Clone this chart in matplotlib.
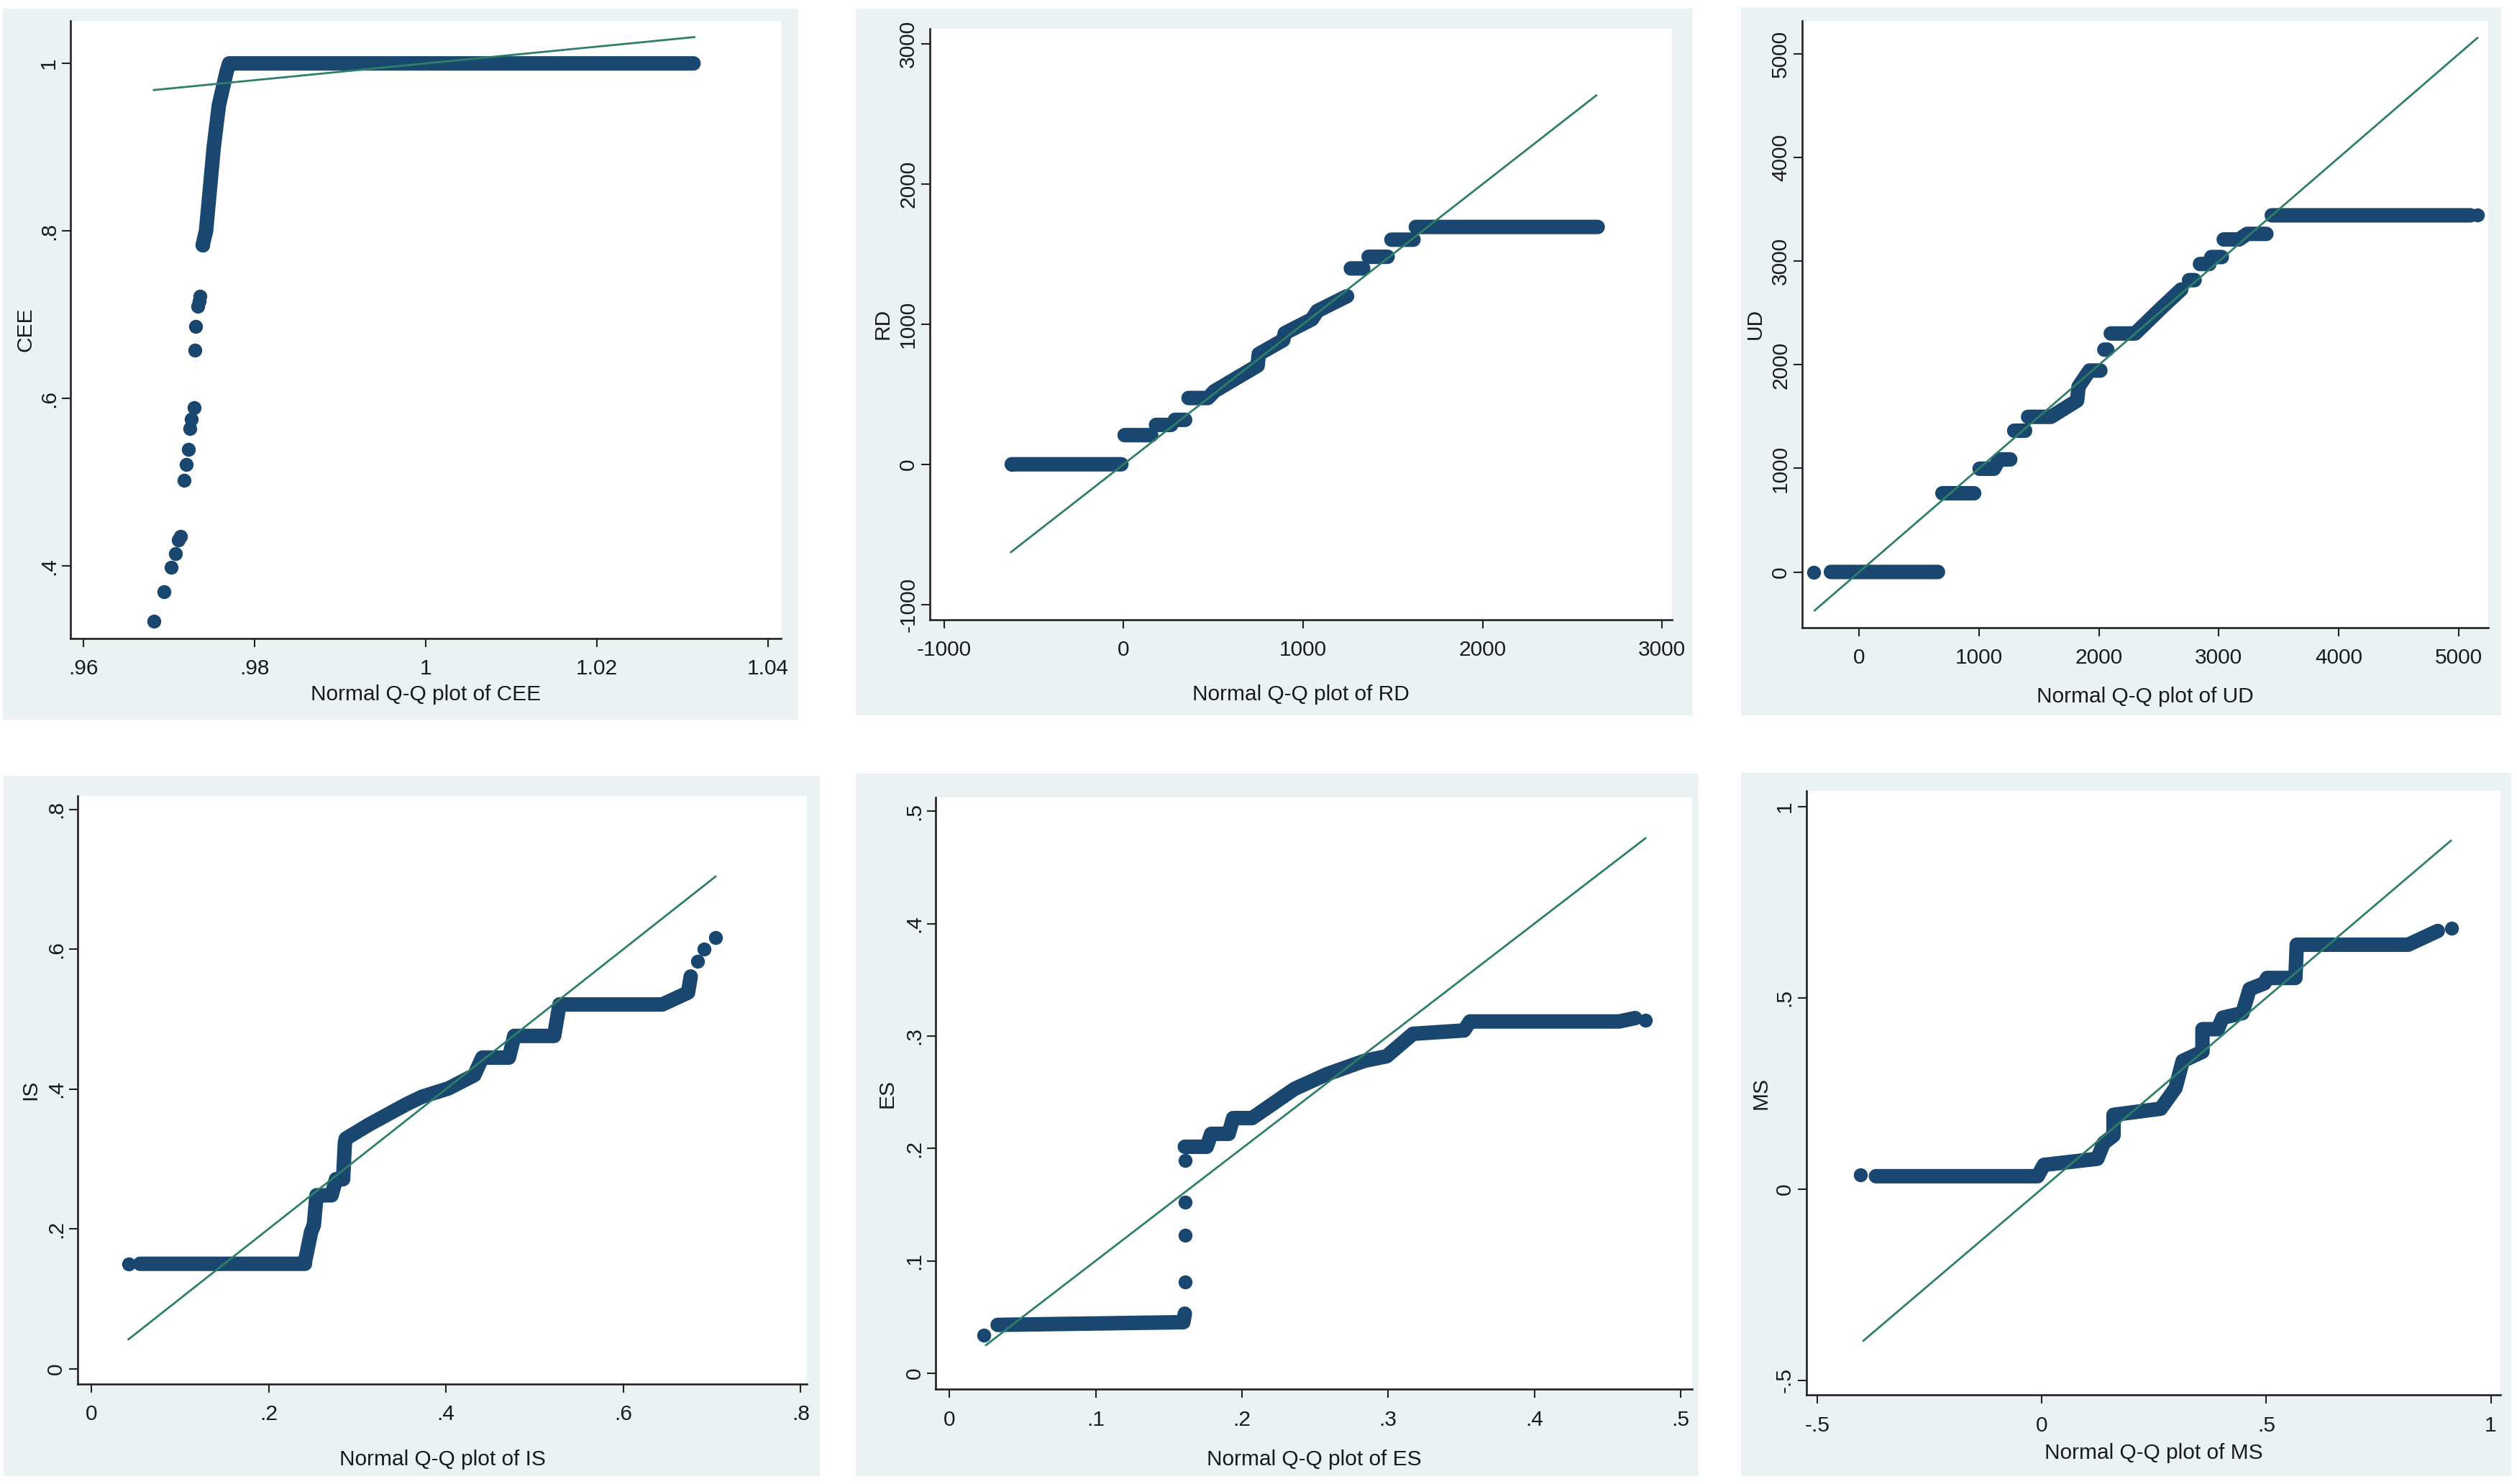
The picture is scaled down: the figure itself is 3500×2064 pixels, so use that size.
import numpy as np
import matplotlib
matplotlib.use("Agg")
import matplotlib.pyplot as plt
from matplotlib.patches import Rectangle

plt.rcParams['font.family'] = ['Liberation Sans', 'DejaVu Sans']
plt.rcParams['text.color'] = '#1a1a1a'
plt.rcParams['xtick.labelcolor'] = '#1a1a1a'
plt.rcParams['ytick.labelcolor'] = '#1a1a1a'

nan = np.nan

# ---- data (normal quantile x, sorted value y) ----
# bands of dense markers are polylines (nan = gap), separate markers are dots
cee_band_x = [0.9739, 0.9743, 0.9752, 0.9758, 0.9767, 0.9770, 1.0313]
cee_band_y = [0.783, 0.800, 0.900, 0.950, 0.990, 1.000, 1.000]
cee_dot_x = [0.9682, 0.9694, 0.9702, 0.9707, 0.9711, 0.9713, 0.9717, 0.9720, 0.9722,
             0.9724, 0.9726, 0.9729, 0.9730, 0.9731, 0.9733, 0.9735, 0.9736, 0.9739]
cee_dot_y = [0.334, 0.369, 0.398, 0.415, 0.431, 0.435, 0.502, 0.521, 0.539,
             0.564, 0.575, 0.589, 0.658, 0.686, 0.710, 0.716, 0.722, 0.783]
cee_line = [0.9682, 1.0314]

rd_band_x = [-623, -12, nan, 6, 154, nan, 181, 265, nan, 286, 343, nan,
             362, 470, 506, 747, 753, 889, 898, 1049, 1079, 1245, nan,
             1266, 1335, nan, 1365, 1471, nan, 1492, 1615, nan, 1628, 2641]
rd_band_y = [0, 0, nan, 208, 208, nan, 281, 281, nan, 317, 317, nan,
             473, 473, 522, 704, 787, 886, 936, 1035, 1094, 1200, nan,
             1398, 1398, nan, 1481, 1481, nan, 1603, 1603, nan, 1694, 1694]
rd_dot_x = [-623]
rd_dot_y = [0]
rd_line = [-627, 2633]

ud_band_x = [-236, 657, nan, 694, 959, nan, 1004, 1124, 1169, 1260, nan, 1293, 1384, nan,
             1409, 1600, 1818, 1830, 1921, 2012, nan, 2045, 2070, nan,
             2099, 2302, 2521, 2686, nan, 2752, 2798, nan, 2843, 2921, 2938, 3025, nan,
             3041, 3169, 3236, 3397, nan, 3442, 5100]
ud_band_y = [0, 0, nan, 760, 760, nan, 997, 997, 1087, 1087, nan, 1364, 1364, nan,
             1498, 1498, 1655, 1789, 1945, 1945, nan, 2147, 2147, nan,
             2303, 2303, 2549, 2728, nan, 2818, 2818, nan, 2974, 2974, 3041, 3041, nan,
             3211, 3211, 3265, 3265, nan, 3444, 3444]
ud_dot_x = [-380, 5157]
ud_dot_y = [0, 3444]
ud_line = [-372, 5157]

is_band_x = [0.055, 0.241, 0.241, 0.248, 0.251, 0.254, 0.255, 0.271, 0.276, 0.284, 0.286,
             0.287, 0.313, 0.355, 0.373, 0.403, 0.432, 0.441, 0.471, 0.477, 0.522, 0.528,
             0.644, 0.673, 0.676]
is_band_y = [0.150, 0.150, 0.153, 0.196, 0.205, 0.248, 0.248, 0.248, 0.271, 0.271, 0.323,
             0.329, 0.349, 0.378, 0.389, 0.401, 0.420, 0.445, 0.445, 0.476, 0.476, 0.521,
             0.521, 0.538, 0.561]
is_dot_x = [0.042, 0.684, 0.691, 0.704]
is_dot_y = [0.150, 0.583, 0.600, 0.617]
is_line = [0.042, 0.704]

es_band_x = [0.033, 0.160, 0.161, nan, 0.161, 0.176, 0.179, 0.191, 0.194, 0.207, 0.236,
             0.258, 0.284, 0.299, 0.317, 0.352, 0.356, 0.458, 0.469]
es_band_y = [0.043, 0.0454, 0.053, nan, 0.2015, 0.2015, 0.213, 0.213, 0.227, 0.227, 0.253,
             0.266, 0.278, 0.282, 0.302, 0.305, 0.313, 0.313, 0.316]
es_dot_x = [0.0237, 0.161, 0.161, 0.161, 0.161, 0.476]
es_dot_y = [0.0337, 0.081, 0.123, 0.152, 0.189, 0.314]
es_line = [0.025, 0.476]

ms_band_x = [-0.369, -0.009, 0.005, 0.124, 0.138, 0.160, 0.160, 0.265, 0.298, 0.314,
             0.358, 0.358, 0.392, 0.403, 0.447, 0.463, 0.496, 0.502, 0.565, 0.568,
             0.816, 0.882]
ms_band_y = [0.0334, 0.0334, 0.063, 0.079, 0.120, 0.140, 0.194, 0.210, 0.264, 0.335,
             0.359, 0.418, 0.418, 0.448, 0.460, 0.523, 0.538, 0.552, 0.552, 0.639,
             0.639, 0.675]
ms_dot_x = [-0.403, 0.912]
ms_dot_y = [0.037, 0.683]
ms_line = [-0.397, 0.911]

# ---- figure ----
W, H = 3500, 2064
NAVY = '#1a476f'
GREEN = '#2e7f67'
BG = '#eaf2f3'
FS = 21.5

fig = plt.figure(figsize=(W / 100, H / 100), dpi=100)
fig.patch.set_facecolor('white')


def fx(px):
    return px / W


def fy(py):
    return 1 - py / H


def draw_panel(box, bg, xlim, ylim, xticks, xtl, yticks, ytl, band_x, band_y,
               dot_x, dot_y, line_x, xlabel, ylabel, xoff, yoff=65):
    l, t, r, b = box
    fig.add_artist(Rectangle((fx(bg[0]), fy(bg[3])), (bg[2] - bg[0]) / W, (bg[3] - bg[1]) / H,
                             transform=fig.transFigure, facecolor=BG, edgecolor='none',
                             zorder=-10))
    ax = fig.add_axes([fx(l), fy(b), (r - l) / W, (b - t) / H])
    ax.set_facecolor('white')
    ax.set_xlim(xlim)
    ax.set_ylim(ylim)
    for s in ('top', 'right'):
        ax.spines[s].set_visible(False)
    for s in ('left', 'bottom'):
        ax.spines[s].set_linewidth(1.9)
        ax.spines[s].set_color('#222222')

    ax.plot(band_x, band_y, color=NAVY, lw=14.5, solid_capstyle='round',
            solid_joinstyle='round', zorder=2)
    ax.plot(dot_x, dot_y, 'o', color=NAVY, ms=14, mew=0, ls='none', zorder=2)
    ax.plot(line_x, line_x, color=GREEN, lw=2, zorder=3)

    ax.set_xticks(xticks)
    ax.set_xticklabels(xtl, fontsize=FS)
    ax.set_yticks(yticks)
    ax.set_yticklabels(ytl, fontsize=FS, rotation=90, va='center', ha='right')
    ax.tick_params(direction='out', length=8.5, width=1.5, color='#222222')
    ax.tick_params(axis='x', pad=12)
    ax.tick_params(axis='y', pad=3)

    fig.text(fx((l + r) / 2), fy(b + xoff), xlabel, ha='center', va='center', fontsize=FS)
    fig.text(fx(l - yoff), fy((t + b) / 2), ylabel, ha='center', va='center',
             rotation=90, fontsize=FS)
    return ax


draw_panel((97.9, 29, 1085.7, 887.6), (4, 12, 1110, 1001),
           (0.95844, 1.0415), (0.3137, 1.0508),
           [0.96, 0.98, 1.0, 1.02, 1.04], ['.96', '.98', '1', '1.02', '1.04'],
           [0.4, 0.6, 0.8, 1.0], ['.4', '.6', '.8', '1'],
           cee_band_x, cee_band_y, cee_dot_x, cee_dot_y, cee_line,
           'Normal Q-Q plot of CEE', 'CEE', 78.6, 62)

draw_panel((1293.1, 39.9, 2324.9, 861.8), (1190, 12, 2354, 995),
           (-1078.5, 3054.5), (-1108.8, 3109),
           [-1000, 0, 1000, 2000, 3000], ['-1000', '0', '1000', '2000', '3000'],
           [-1000, 0, 1000, 2000, 3000], ['-1000', '0', '1000', '2000', '3000'],
           rd_band_x, rd_band_y, rd_dot_x, rd_dot_y, rd_line,
           'Normal Q-Q plot of RD', 'RD', 104.4, 65.5)

draw_panel((2506.1, 29, 3460, 872.8), (2421, 10, 3478, 995),
           (-475.2, 5247.8), (-536.7, 5322),
           [0, 1000, 2000, 3000, 4000, 5000], ['0', '1000', '2000', '3000', '4000', '5000'],
           [0, 1000, 2000, 3000, 4000, 5000], ['0', '1000', '2000', '3000', '4000', '5000'],
           ud_band_x, ud_band_y, ud_dot_x, ud_dot_y, ud_line,
           'Normal Q-Q plot of UD', 'UD', 96.6, 65.4)

draw_panel((107.8, 1106.8, 1122.1, 1924.5), (5, 1079, 1140, 2053),
           (-0.0155, 0.8071), (-0.0215, 0.8195),
           [0, 0.2, 0.4, 0.6, 0.8], ['0', '.2', '.4', '.6', '.8'],
           [0, 0.2, 0.4, 0.6, 0.8], ['0', '.2', '.4', '.6', '.8'],
           is_band_x, is_band_y, is_dot_x, is_dot_y, is_line,
           'Normal Q-Q plot of IS', 'IS', 105.9, 65.3)

draw_panel((1301.4, 1109.3, 2352.7, 1932.1), (1190, 1076, 2362, 2053),
           (-0.00925, 0.5078), (-0.0142, 0.5122),
           [0, 0.1, 0.2, 0.3, 0.4, 0.5], ['0', '.1', '.2', '.3', '.4', '.5'],
           [0, 0.1, 0.2, 0.3, 0.4, 0.5], ['0', '.1', '.2', '.3', '.4', '.5'],
           es_band_x, es_band_y, es_dot_x, es_dot_y, es_line,
           'Normal Q-Q plot of ES', 'ES', 98.3, 67.8)

draw_panel((2511.6, 1100.4, 3477.2, 1940.4), (2421, 1075, 3492, 2053),
           (-0.5243, 1.0219), (-0.5393, 1.0406),
           [-0.5, 0, 0.5, 1.0], ['-.5', '0', '.5', '1'],
           [-0.5, 0, 0.5, 1.0], ['-.5', '0', '.5', '1'],
           ms_band_x, ms_band_y, ms_dot_x, ms_dot_y, ms_line,
           'Normal Q-Q plot of MS', 'MS', 80.5, 62.7)

fig.savefig('out.png', dpi=100, facecolor='white')
